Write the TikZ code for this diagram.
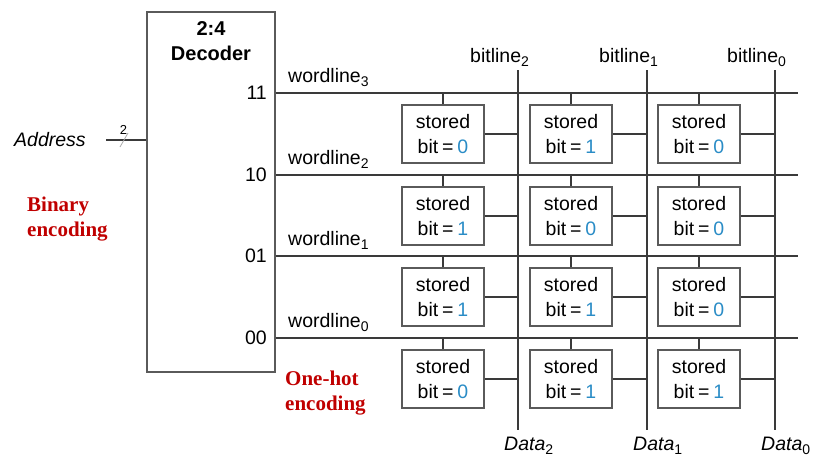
\documentclass[tikz,border=0pt]{standalone}
\usepackage{fontspec}
\setmainfont{Liberation Sans}
\newfontfamily\tagfont{Liberation Serif}
\definecolor{wire}{HTML}{3A3A3A}
\definecolor{boxgray}{HTML}{5A5A5A}
\definecolor{bitblue}{HTML}{2A8CC6}
\definecolor{tagred}{HTML}{C00000}
% lowered index digit (wordline_3, Data_0, ...)
\newcommand\lowidx[1]{\raisebox{-4.5pt}{\fontsize{14}{14}\selectfont #1}}
\begin{document}
\begin{tikzpicture}[x=1pt,y=-1pt,
  wire/.style={draw=wire, line width=1.4pt},
  txt/.style={inner sep=0pt, font=\fontsize{19.5}{24}\selectfont},
  cell/.style={draw=boxgray, line width=1.3pt, minimum width=82pt, minimum height=58pt,
    inner sep=0pt, align=center, font=\fontsize{19.5}{25}\selectfont},
  tag/.style={inner sep=0pt, align=left, text=tagred,
    font=\tagfont\bfseries\fontsize{21}{25}\selectfont}]
\useasboundingbox (0,0) rectangle (814,458);

% decoder block
\node[draw=boxgray, line width=1.4pt, minimum width=128pt, minimum height=360pt,
  inner sep=0pt] (dec) at (211,192) {};
\node[inner sep=0pt, align=center, font=\bfseries\fontsize{20}{25}\selectfont]
  (dectitle) at (211,41.5) {2:4\\Decoder};

% address bus
\node[txt, anchor=base west, font=\itshape\fontsize{19.5}{24}\selectfont]
  (addrlbl) at (14,146) {Address};
\coordinate (addr) at (106,140);
\draw[wire] (addr) -- (addr -| dec.west);
\draw[gray!70, line width=0.8pt] (120,147) -- (128,133);
\node[inner sep=0pt, font=\fontsize{13}{13}\selectfont] (buswidth) at (123.5,130) {2};

% bitlines with their labels
\foreach \c/\bx in {2/518, 1/647, 0/775}{
  \coordinate (bt\c) at (\bx,70);
  \coordinate (bb\c) at (\bx,430);
  \draw[wire] (bt\c) -- (bb\c);
  \node[txt, anchor=base west] (bl\c) at (\bx-48,62) {bitline\lowidx{\c}};
  \node[txt, anchor=base west] (data\c) at (\bx-14,450) {\textit{Data}\lowidx{\c}};
}

% wordlines, decoder outputs and the stored bits
\foreach \r/\code/\wy/\ba/\bb/\bc in
  {3/11/93/0/1/0, 2/10/175/1/0/0, 1/01/256/1/1/0, 0/00/338/0/1/1}{
  \coordinate (wl\r) at (dec.east |- 0,\wy);
  \coordinate (we\r) at (798,\wy);
  \draw[wire] (wl\r) -- (we\r);
  \node[txt, anchor=east] (out\r) at (267,\wy) {\code};
  \node[txt, anchor=base west] (wlbl\r) at (288,\wy-11) {wordline\lowidx{\r}};
  \node[cell] (c\r-2) at (443,\wy+41) {stored\\bit\hspace{0.2em}=\hspace{0.2em}\textcolor{bitblue}{\ba}};
  \node[cell] (c\r-1) at (571,\wy+41) {stored\\bit\hspace{0.2em}=\hspace{0.2em}\textcolor{bitblue}{\bb}};
  \node[cell] (c\r-0) at (699,\wy+41) {stored\\bit\hspace{0.2em}=\hspace{0.2em}\textcolor{bitblue}{\bc}};
  \foreach \c in {2,1,0}{
    \draw[wire] (c\r-\c.north) -- (c\r-\c.north |- wl\r);
    \draw[wire] (c\r-\c.east) -- (c\r-\c.east -| bt\c);
  }
}

% encoding annotations
\node[tag, anchor=north west] (bin) at (27,196.5) {Binary\\encoding};
\node[tag, anchor=north west] (onehot) at (285,370.5) {One-hot\\encoding};
\end{tikzpicture}
\end{document}
